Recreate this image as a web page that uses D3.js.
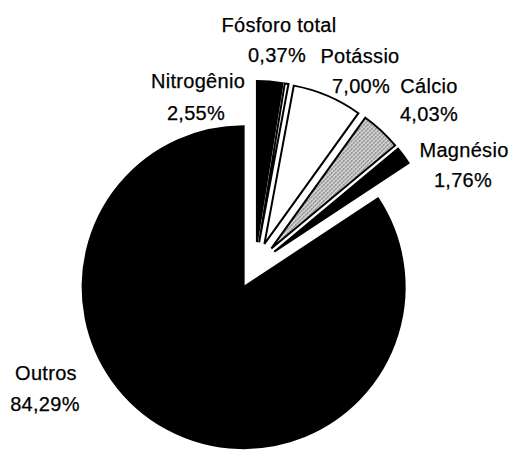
<!DOCTYPE html>
<html>
<head>
<meta charset="utf-8">
<script src="https://cdn.jsdelivr.net/npm/d3@7"></script>
<style>
  html, body { margin: 0; padding: 0; background: #fff; }
  svg text { font-family: "Liberation Sans", Arial, sans-serif; font-size: 20px; fill: #000; stroke: #000; stroke-width: 0.25px; letter-spacing: 0.3px; }
</style>
</head>
<body>
<div id="chart"></div>
<script>
// Dados (percentual por nutriente)
const categories = ["Nitrogênio", "Fósforo total", "Potássio", "Cálcio", "Magnésio", "Outros"];
const values = [2.55, 0.37, 7.00, 4.03, 1.76, 84.29];
const valueLabels = ["2,55%", "0,37%", "7,00%", "4,03%", "1,76%", "84,29%"];

const width = 511, height = 451;
const cx = 255, cy = 266, radius = 161, explode = 24;

// posição dos rótulos (nome, percentual) - colocados como no original
const labelPos = {
    "Nitrogênio": [[198, 88], [196, 120]],
    "Fósforo total": [[279, 32], [277, 62]],
    "Potássio": [[360, 63], [361, 93]],
    "Cálcio": [[429, 93], [429, 121]],
    "Magnésio": [[464, 157], [463, 187]],
    "Outros": [[46, 380], [45, 411]]
};

const fills = {
    "Nitrogênio": "#000",
    "Fósforo total": "#fff",
    "Potássio": "#fff",
    "Cálcio": "url(#stipple)",
    "Magnésio": "#000",
    "Outros": "#000"
};

const data = categories.map((c, i) => ({ name: c, value: values[i], label: valueLabels[i] }));

const svg = d3.select("#chart")
    .append("svg")
    .attr("width", width)
    .attr("height", height);

// padrão pontilhado para Cálcio
const pat = svg.append("defs").append("pattern")
    .attr("id", "stipple")
    .attr("width", 4).attr("height", 4)
    .attr("patternUnits", "userSpaceOnUse");
pat.append("rect").attr("width", 4).attr("height", 4).attr("fill", "#d4d4d4");
pat.append("rect").attr("x", 0).attr("y", 0).attr("width", 1).attr("height", 1).attr("fill", "#333");
pat.append("rect").attr("x", 2).attr("y", 2).attr("width", 1).attr("height", 1).attr("fill", "#444");
pat.append("rect").attr("x", 3).attr("y", 1).attr("width", 1).attr("height", 1).attr("fill", "#888");
pat.append("rect").attr("x", 1).attr("y", 3).attr("width", 1).attr("height", 1).attr("fill", "#999");

const pie = d3.pie().sort(null).value(d => d.value);
const arc = d3.arc().innerRadius(0).outerRadius(radius);

const g = svg.append("g").attr("transform", `translate(${cx},${cy})`);

g.selectAll(".slice")
    .data(pie(data))
    .enter()
    .append("path")
    .attr("class", "slice")
    .attr("d", arc)
    .attr("transform", d => {
        const a = (d.startAngle + d.endAngle) / 2;
        return `translate(${explode * Math.sin(a)},${-explode * Math.cos(a)})`;
    })
    .attr("fill", d => fills[d.data.name])
    .attr("stroke", "#000")
    .attr("stroke-width", 2)
    .attr("stroke-linejoin", "miter");

// rótulos
data.forEach(d => {
    const p = labelPos[d.name];
    svg.append("text")
        .attr("x", p[0][0]).attr("y", p[0][1])
        .attr("text-anchor", "middle")
        .text(d.name);
    svg.append("text")
        .attr("x", p[1][0]).attr("y", p[1][1])
        .attr("text-anchor", "middle")
        .text(d.label);
});
</script>
</body>
</html>
